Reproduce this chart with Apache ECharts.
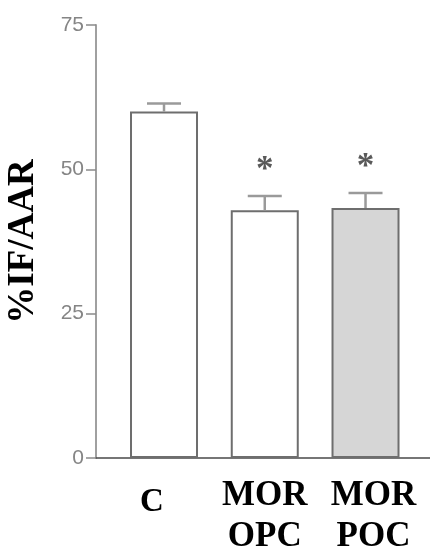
<!DOCTYPE html>
<html>
<head>
<meta charset="utf-8">
<script src="https://cdn.jsdelivr.net/npm/echarts@6/dist/echarts.min.js"></script>
<style>
  html, body { margin: 0; padding: 0; background: #fff; }
  #chart { width: 430px; height: 547px; }
</style>
</head>
<body>
<div id="chart"></div>
<script>
// Infarct size as a percentage of area at risk, per treatment group
const categories = ['C', 'MOR\nOPC', 'MOR\nPOC'];
const means = [60.0, 42.9, 43.3];
const sems = [1.4, 2.5, 2.6];
const significant = [false, true, true];
const fills = ['#ffffff', '#ffffff', '#d6d6d6'];
const yTicks = [0, 25, 50, 75];

const positions = categories.map((_, i) => i);

const serif = '"Liberation Serif", "Times New Roman", serif';

const chart = echarts.init(document.getElementById('chart'), null, { renderer: 'canvas' });

chart.setOption({
  animation: false,
  backgroundColor: '#ffffff',
  grid: { left: 96, right: 0, top: 25, bottom: 89, outerBoundsMode: 'none', containLabel: false },
  xAxis: {
    type: 'value',
    min: -0.675,
    max: 2.64,
    splitLine: { show: false },
    axisLine: { show: true, onZero: false, lineStyle: { color: '#4a4a4a', width: 1.5 } },
    axisTick: { show: false },
    axisLabel: {
      customValues: positions,
      margin: 17,
      formatter: (v) => {
        const i = Math.round(v);
        const lines = categories[i].split('\n');
        const style = ['c', 'm', 'p'][i];
        return lines.map(l => '{' + style + '|' + l + '}').join('\n');
      },
      rich: {
        c: { fontFamily: serif, fontWeight: 'bold', fontSize: 33, lineHeight: 41, color: '#000', padding: [14, 24, 0, 0] },
        m: { fontFamily: serif, fontWeight: 'bold', fontSize: 35, lineHeight: 41, color: '#000' },
        p: { fontFamily: serif, fontWeight: 'bold', fontSize: 35, lineHeight: 41, color: '#000', padding: [0, 0, 0, 16] }
      }
    }
  },
  yAxis: {
    type: 'value',
    min: 0,
    max: 75,
    interval: 25,
    name: '%IF/AAR',
    nameLocation: 'middle',
    nameGap: 54,
    nameTextStyle: { fontFamily: serif, fontWeight: 'bold', fontSize: 37, color: '#000' },
    splitLine: { show: false },
    axisLine: { show: true, onZero: false, lineStyle: { color: '#a0a0a0', width: 2 } },
    axisTick: { show: true, length: 10, lineStyle: { color: '#8a8a8a', width: 1.5 } },
    axisLabel: {
      margin: 12,
      color: '#858585',
      fontFamily: '"Liberation Sans Narrow", "Liberation Sans", sans-serif',
      fontSize: 21,
      formatter: (v) => (yTicks.includes(v) ? String(v) : '')
    }
  },
  series: [
    {
      type: 'bar',
      barWidth: 68,
      data: means.map((m, i) => ({
        value: [positions[i], m],
        itemStyle: { color: fills[i] }
      })),
      itemStyle: { borderColor: '#6e6e6e', borderWidth: 2 },
      z: 2
    },
    {
      // error bars (upper half) and significance markers
      type: 'custom',
      z: 3,
      data: means.map((m, i) => [positions[i], m, m + sems[i], significant[i] ? 1 : 0]),
      renderItem: (params, api) => {
        const x = api.value(0);
        const base = api.coord([x, api.value(1)]);
        const top = api.coord([x, api.value(2)]);
        const half = 17;
        const style = { stroke: '#9a9a9a', lineWidth: 2.5 };
        const children = [
          { type: 'line', shape: { x1: base[0], y1: base[1], x2: top[0], y2: top[1] }, style },
          { type: 'line', shape: { x1: top[0] - half, y1: top[1], x2: top[0] + half, y2: top[1] }, style }
        ];
        if (api.value(3)) {
          children.push({
            type: 'text',
            style: {
              text: '*',
              x: top[0],
              y: top[1] - 25,
              align: 'center',
              verticalAlign: 'middle',
              font: 'bold 35px ' + serif,
              fill: '#5a5a5a'
            }
          });
        }
        return { type: 'group', children };
      }
    }
  ]
});
</script>
</body>
</html>
